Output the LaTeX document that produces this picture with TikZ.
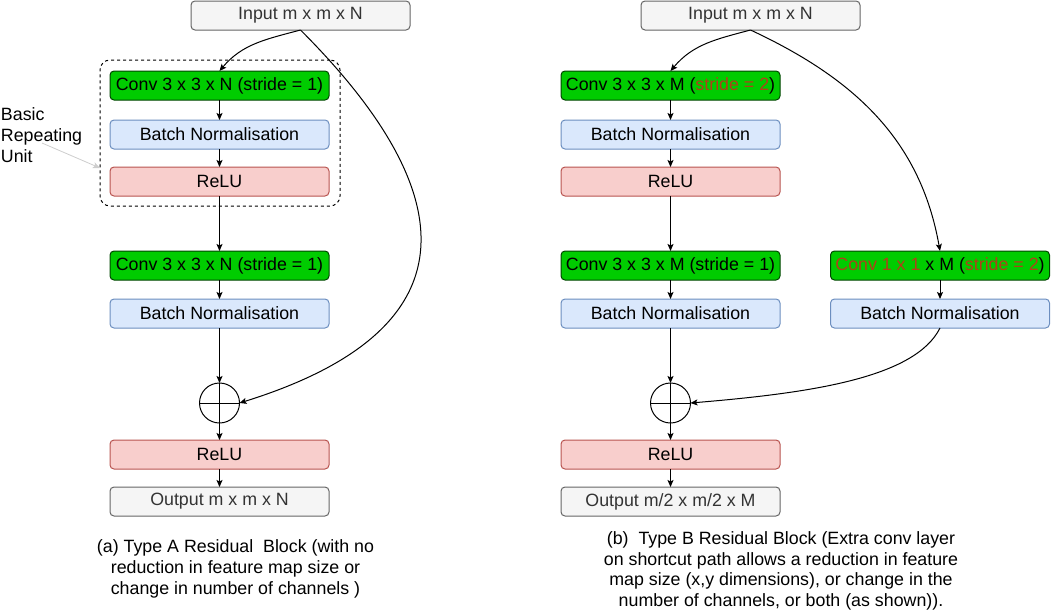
\documentclass[tikz,border=0pt]{standalone}
\usepackage{fontspec}
\setmainfont{Liberation Sans}
\usetikzlibrary{arrows.meta}
\usetikzlibrary{positioning}
\definecolor{inFill}{HTML}{F5F5F5}
\definecolor{inLine}{HTML}{666666}
\definecolor{inText}{HTML}{333333}
\definecolor{convFill}{HTML}{00CC00}
\definecolor{convLine}{HTML}{004600}
\definecolor{bnFill}{HTML}{DAE8FC}
\definecolor{bnLine}{HTML}{6C8EBF}
\definecolor{reluFill}{HTML}{F8CECC}
\definecolor{reluLine}{HTML}{B85450}
\definecolor{strideRed}{RGB}{175,65,25}
\definecolor{noteGrey}{RGB}{205,205,205}
\begin{document}
\begin{tikzpicture}[x=1pt,y=1pt,line width=1pt,
  every node/.style={font=\fontsize{17.8}{20.7}\selectfont,inner sep=0pt,outer sep=0pt},
  layer/.style={draw,rounded corners=4pt,minimum width=219pt,minimum height=29pt},
  inbox/.style={layer,fill=inFill,draw=inLine,text=inText},
  convbox/.style={layer,fill=convFill,draw=convLine},
  bnbox/.style={layer,fill=bnFill,draw=bnLine},
  relubox/.style={layer,fill=reluFill,draw=reluLine},
  sumnode/.style={draw,circle,minimum size=40pt,
    path picture={\draw (path picture bounding box.north)--(path picture bounding box.south)
      (path picture bounding box.west)--(path picture bounding box.east);}},
  arr/.style={-{Stealth[length=7pt,width=6pt,inset=1.5pt]}}]
  \useasboundingbox (0,0) rectangle (1051,-613);

  \node (unitA) at (220,-133) [draw,dashed,dash pattern=on 3pt off 3pt,rounded corners=10pt,minimum width=240pt,minimum height=146pt]{};
  \node (unitlbl) at (1,-135) [anchor=west,align=left]{Basic\\Repeating\\Unit};
  \coordinate (unittail) at (42,-143);

  \node (inA) at (300.5,-15.5) [inbox]{Input m x m x N};
  \node (convA) at (219.5,-85.5) [convbox]{Conv 3 x 3 x N (stride = 1)};
  \node[bnbox,below=20pt of convA] (bnA) {Batch Normalisation};
  \node[relubox,below=18pt of bnA] (reluA) {ReLU};
  \node[convbox,below=55pt of reluA] (convA2) {Conv 3 x 3 x N (stride = 1)};
  \node[bnbox,below=19pt of convA2] (bnA2) {Batch Normalisation};
  \node[sumnode,below=55pt of bnA2] (sumA) {};
  \node[relubox,below=17pt of sumA] (reluA2) {ReLU};
  \node[inbox,below=18pt of reluA2] (outA) {Output m x m x N};
  \node (capA) at (235.5,-569) [align=center]{(a) Type A Residual~ Block (with no\\reduction in feature map size or\\change in number of channels )};

  \node (inB) at (750.5,-15.5) [inbox]{Input m x m x N};
  \node (convB) at (670.5,-85.5) [convbox]{Conv 3 x 3 x M (\textcolor{strideRed}{stride = 2})};
  \node[bnbox,below=20pt of convB] (bnB) {Batch Normalisation};
  \node[relubox,below=18pt of bnB] (reluB) {ReLU};
  \node[convbox,below=55pt of reluB] (convB2) {Conv 3 x 3 x M (stride = 1)};
  \node[bnbox,below=19pt of convB2] (bnB2) {Batch Normalisation};
  \node[sumnode,below=55pt of bnB2] (sumB) {};
  \node[relubox,below=17pt of sumB] (reluB2) {ReLU};
  \node[inbox,below=18pt of reluB2] (outB) {Output m/2 x m/2 x M};
  \node (convC) at (940,-265.5) [convbox]{\textcolor{strideRed}{Conv 1 x 1} x M (\textcolor{strideRed}{stride = 2})};
  \node[bnbox,below=19pt of convC] (bnC) {Batch Normalisation};
  \node (capB) at (781,-571) [align=center]{(b)~ Type B Residual Block (Extra conv layer\\on shortcut path allows a reduction in feature\\map size (x,y dimensions), or change in the\\number of channels, or both (as shown)).};

  \draw[arr,noteGrey,line width=0.8pt](unittail)--([yshift=-35pt]unitA.west);
  \draw[arr](inA.south) to[out=195,in=50] (convA.north);
  \draw[arr](convA)--(bnA);
  \draw[arr](bnA)--(reluA);
  \draw[arr](reluA)--(convA2);
  \draw[arr](convA2)--(bnA2);
  \draw[arr](bnA2)--(sumA);
  \draw[arr](sumA)--(reluA2);
  \draw[arr](reluA2)--(outA);
  \draw[arr](inA.south) .. controls +(120,-120) and +(280,87) .. (sumA.east);

  \draw[arr](inB.south) to[out=195,in=50] (convB.north);
  \draw[arr](convB)--(bnB);
  \draw[arr](bnB)--(reluB);
  \draw[arr](reluB)--(convB2);
  \draw[arr](convB2)--(bnB2);
  \draw[arr](bnB2)--(sumB);
  \draw[arr](sumB)--(reluB2);
  \draw[arr](reluB2)--(outB);
  \draw[arr](inB.south) to[out=-25,in=100] (convC.north);
  \draw[arr](convC)--(bnC);
  \draw[arr](bnC.south) .. controls +(-25,-50) and +(120,10) .. (sumB.east);
\end{tikzpicture}
\end{document}
